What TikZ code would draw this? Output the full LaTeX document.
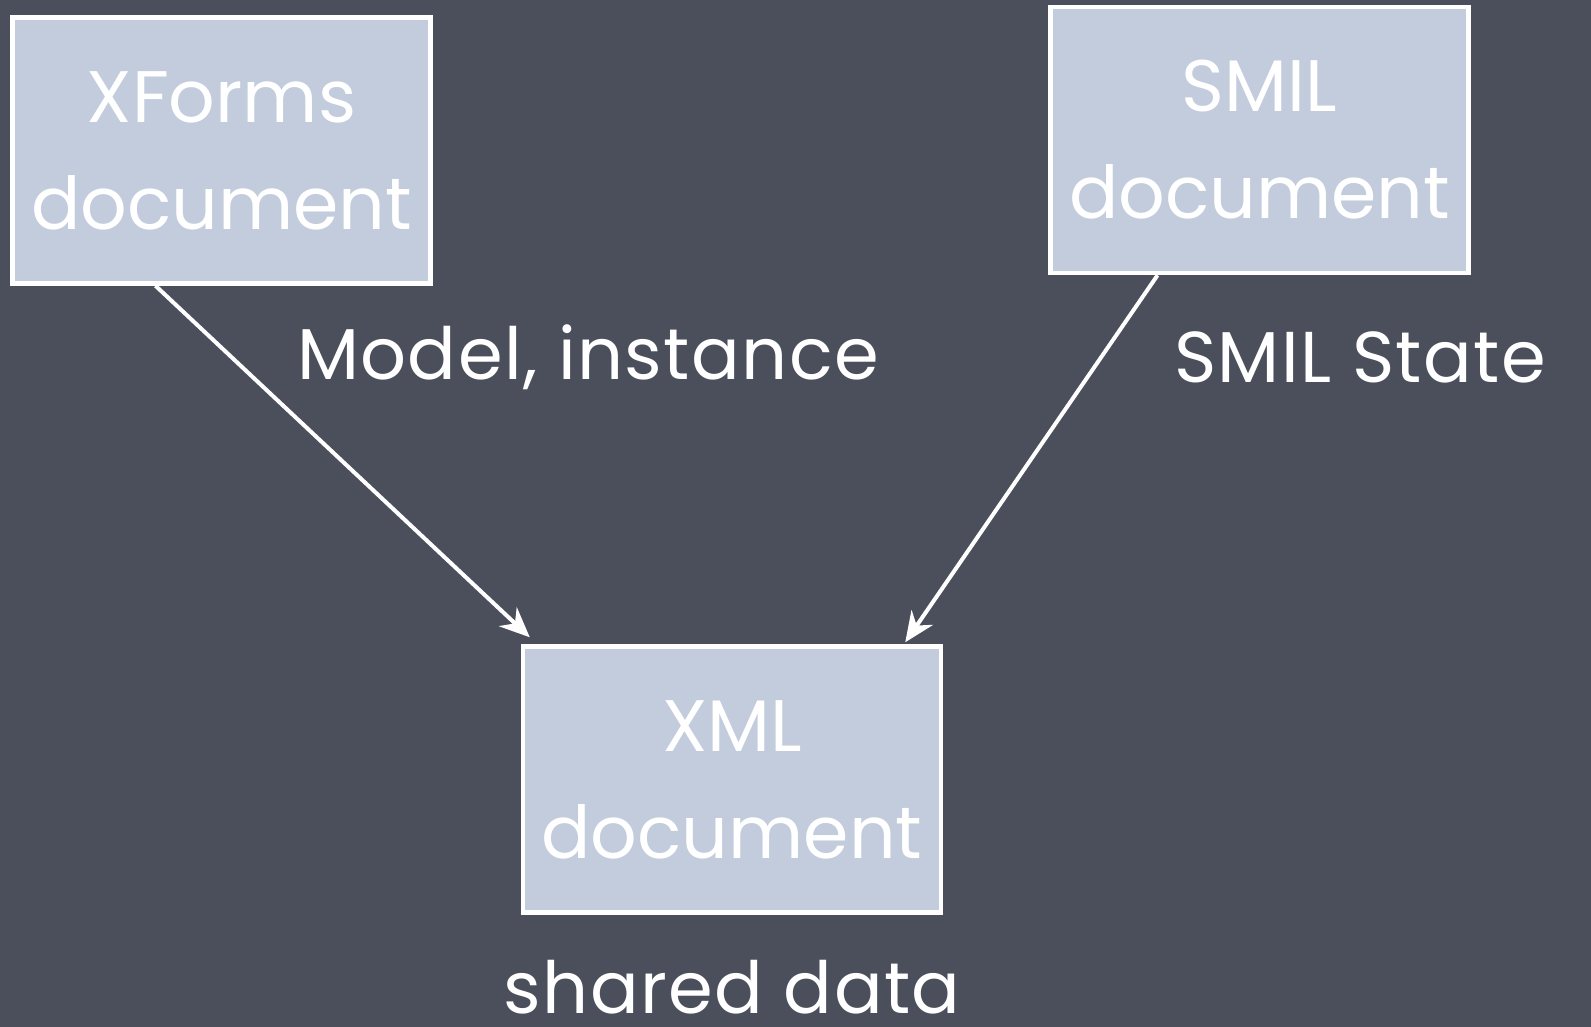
\documentclass[tikz,border=0pt]{standalone}
\usepackage{fontspec}
\setmainfont{Poppins}
\usetikzlibrary{arrows.meta,positioning}

\definecolor{slate}{HTML}{4A4F5B}
\definecolor{boxfill}{HTML}{C2CCDC}

\tikzset{
  docbox/.style={draw=white, line width=4.5pt, fill=boxfill, text=white,
    minimum width=418pt, minimum height=266pt, align=center,
    font=\fontsize{73}{107}\selectfont},
  flowlabel/.style={text=white, font=\fontsize{72}{84}\selectfont\addfontfeature{LetterSpace=2}},
  flow/.style={draw=white, line width=4pt, -{Stealth[length=30pt,width=26pt]}}
}

\begin{document}
\begin{tikzpicture}[x=1pt,y=1pt]
        \fill[slate] (0,0) rectangle (1591,-1027);
        \useasboundingbox (0,0) rectangle (1591,-1027);
        % the three documents
        \node[docbox] (xforms) at (221.5,-150.5) {XForms\\document};
        \node[docbox] (smil) at (1259.5,-140) {SMIL\\document};
        \node[docbox] (xml) at (732,-779.5) {XML\\document};
        % links into the shared XML data
        \draw[flow] ([xshift=-66pt]xforms.south) -- ([xshift=9pt,yshift=7pt]xml.north west);
        \draw[flow] ([xshift=-102pt]smil.south) -- ([xshift=-38pt,yshift=2pt]xml.north east);
        \node[flowlabel] (modellbl) at (588,-357) {Model, instance};
        \node[flowlabel] (statelbl) at (1360,-357) {SMIL State};
        \node[flowlabel, below=42pt of xml] (sharedlbl) {shared data};
      \end{tikzpicture}
\end{document}
